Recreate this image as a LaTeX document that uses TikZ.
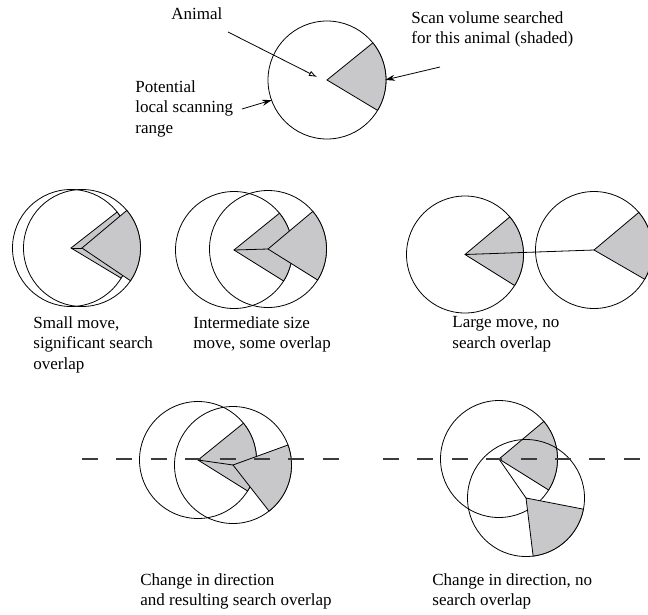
\documentclass[tikz,border=0pt]{standalone}
\usepackage{fontspec}
\setmainfont{Liberation Serif}
\usetikzlibrary{arrows.meta}
\definecolor{shadegray}{RGB}{200,200,202}
\definecolor{dashgray}{RGB}{60,60,60}
\newcommand\sectorat[4]{%
  \filldraw[sector] (#1) -- ++(#2:#4) arc[start angle=#2,end angle=#3,radius=#4] -- cycle;}
\begin{document}
\begin{tikzpicture}[x=1pt,y=1pt,
  line width=0.8pt,
  ring/.style={draw=black},
  sector/.style={fill=shadegray,draw=black,line join=miter},
  link/.style={draw=black},
  guide/.style={draw=dashgray,line width=1.3pt,dash pattern=on 16pt off 18.4pt},
  lab/.style={anchor=north west,inner sep=0pt,align=left,font=\fontsize{17}{20.5}\selectfont},
  openarr/.style={-{Latex[open,length=8pt,width=5.5pt]}},
  fillarr/.style={-{Stealth[length=10pt,width=6pt]}}]
\useasboundingbox (0,0) rectangle (648,-614);
\def\R{58.5}
% centres
\coordinate (T) at (327,-80);
\coordinate (A) at (71,-248);  \coordinate (B) at (82,-248);
\coordinate (C) at (234,-250); \coordinate (D) at (268,-249);
\coordinate (E) at (465,-254.5); \coordinate (F) at (594,-250);
\coordinate (G) at (198,-460); \coordinate (H) at (233,-465);
\coordinate (I) at (499,-459); \coordinate (J) at (526,-498);
% top figure
\draw[ring] (T) circle[radius=59];
\sectorat{T}{-31}{39}{59}
% row 2
\draw[ring] (A) circle[radius=\R];
\sectorat{A}{-31}{38}{\R}
\draw[ring] (B) circle[radius=\R];
\sectorat{B}{-34}{40}{\R}
\draw[link] (A) -- (B);
\draw[ring] (C) circle[radius=\R];
\sectorat{C}{-32}{39}{\R}
\draw[ring] (D) circle[radius=\R];
\sectorat{D}{-32}{40}{\R}
\draw[link] (C) -- (D);
\draw[ring] (E) circle[radius=\R];
\sectorat{E}{-32}{40}{\R}
\draw[ring] (F) circle[radius=\R];
\sectorat{F}{-30}{40}{\R}
\draw[link] (E) -- (F);
% row 3
\draw[ring] (G) circle[radius=\R];
\sectorat{G}{-32}{39}{\R}
\draw[ring] (H) circle[radius=\R];
\sectorat{H}{-52}{20}{\R}
\draw[link] (G) -- (H);
\draw[ring] (I) circle[radius=\R];
\sectorat{I}{-32}{40}{\R}
\draw[ring] (J) circle[radius=\R];
\sectorat{J}{-83}{-11}{\R}
\draw[link] (I) -- (J);
% dashed guides
\coordinate (gl1) at (82,-459);  \coordinate (gl2) at (339,-459);
\coordinate (gr1) at (383,-459); \coordinate (gr2) at (640,-459);
\draw[guide] (gl1) -- (gl2);
\draw[guide] (gr1) -- (gr2);
% labels
\node[lab] (animal) at (171,-7) {Animal};
\node[lab] (scan) at (411,-11) {Scan volume searched\\for this animal (shaded)};
\node[lab] (potential) at (135,-80) {Potential\\local scanning\\range};
\node[lab] (small) at (33,-316) {Small move,\\significant search\\overlap};
\node[lab] (inter) at (193,-316) {Intermediate size\\move, some overlap};
\node[lab] (large) at (452,-316) {Large move, no\\search overlap};
\node[lab] (chg1) at (140,-573) {Change in direction\\and resulting search overlap};
\node[lab] (chg2) at (432,-573) {Change in direction, no\\search overlap};
% arrows
\coordinate (a1) at (228,-32);  \coordinate (a2) at (317,-77);
\coordinate (s1) at (440,-67);  \coordinate (s2) at (385,-80);
\coordinate (p1) at (242,-109); \coordinate (p2) at (272,-100);
\draw[openarr] (a1) -- (a2);
\draw[fillarr] (s1) -- (s2);
\draw[fillarr] (p1) -- (p2);
\end{tikzpicture}
\end{document}
